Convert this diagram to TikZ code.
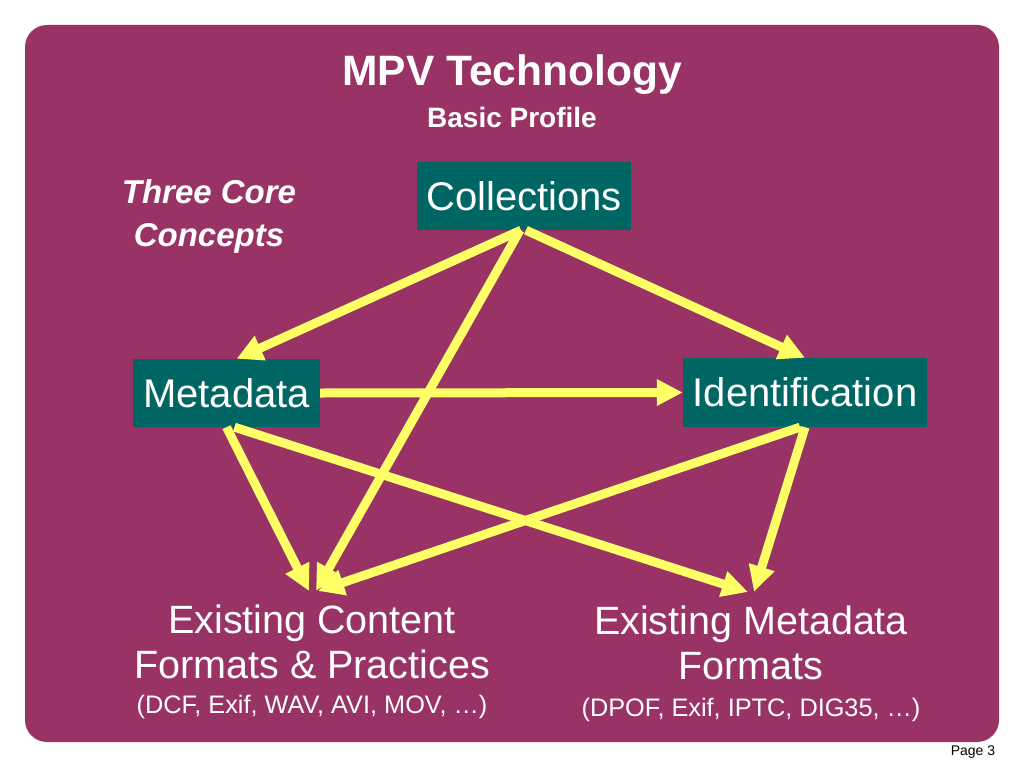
\documentclass[tikz,border=0pt]{standalone}
\usepackage{fontspec}
\setmainfont{Liberation Sans}
\usetikzlibrary{arrows.meta}
\definecolor{slidebg}{RGB}{153,51,102}
\definecolor{boxteal}{RGB}{0,102,100}
\definecolor{arrowyellow}{RGB}{255,255,102}
\tikzset{
  concept/.style={fill=boxteal,text=white,inner sep=0pt,font=\fontsize{40}{45}\selectfont},
  link/.style={draw=arrowyellow,line width=9pt,-{Triangle[length=26pt,width=25pt]}},
  caption/.style={text=white,align=center,inner sep=0pt,font=\fontsize{39.5}{45}\selectfont},
  example/.style={text=white,inner sep=0pt,font=\fontsize{25.3}{28}\selectfont}
}
\begin{document}
\begin{tikzpicture}[x=1pt,y=-1pt]
\useasboundingbox (0,0) rectangle (1024,768);
\fill[white] (0,0) rectangle (1024,768);
\fill[slidebg,rounded corners=22pt] (25,25) rectangle (999,742);
% titles
\node (title) [text=white,font=\fontsize{42.5}{48}\selectfont\bfseries] at (512,75) {MPV Technology};
\node (subtitle) [text=white,font=\fontsize{28}{32}\selectfont\bfseries] at (512,117) {Basic Profile};
\node (core) [text=white,align=center,font=\fontsize{33}{43}\selectfont\bfseries\itshape] at (209,216) {Three Core\\Concepts};
% the three concepts
\node (coll) [concept,minimum width=214pt,minimum height=68pt] at (524,196) {Collections};
\node (meta) [concept,minimum width=187pt,minimum height=68pt] at (226.5,393) {Metadata};
\node (ident) [concept,minimum width=244pt,minimum height=69pt] at (805,392.5) {Identification};
% existing formats
\node (cont) [caption,anchor=north] at (312,605) {Existing Content\\Formats \& Practices};
\node (contex) [example] at (312,707) {(DCF, Exif, WAV, AVI, MOV, …)};
\node (mfmt) [caption,anchor=north] at (751,606) {Existing Metadata\\Formats};
\node (mfmtex) [example] at (751,710) {(DPOF, Exif, IPTC, DIG35, …)};
\coordinate (cin) at (312,591);
\coordinate (min) at (750,592);
% arrows
\draw[link] ([xshift=-3pt]coll.south) -- ([xshift=10pt]meta.north);
\draw[link] ([xshift=2pt]coll.south) -- (ident.north);
\draw[link] ([xshift=-4pt]coll.south) -- ([xshift=4pt]cin);
\draw[link] (meta.east) -- (ident.west);
\draw[link] (meta.south) -- ([xshift=-3pt]cin);
\draw[link] ([xshift=8pt]meta.south) -- ([xshift=-2pt]min);
\draw[link] (ident.south) -- ([xshift=4pt]min);
\draw[link] ([xshift=-5pt]ident.south) -- ([xshift=6pt]cin);
\node (page) [font=\fontsize{14}{16}\selectfont,inner sep=0pt] at (973,752) {Page 3};
\end{tikzpicture}
\end{document}
